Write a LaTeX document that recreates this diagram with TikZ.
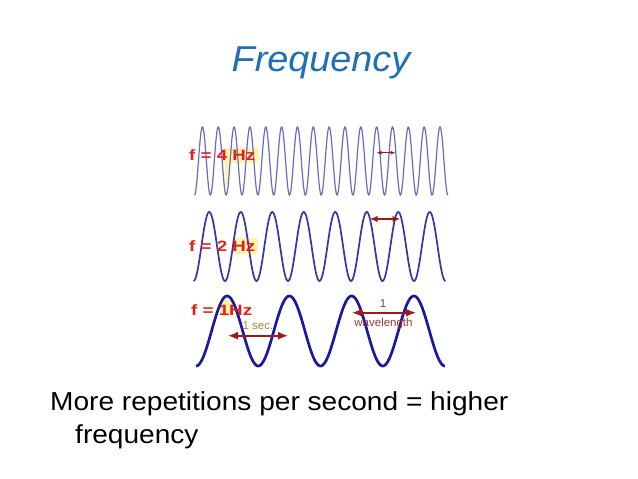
\documentclass[tikz,border=0pt]{standalone}
\usepackage{fontspec}
\setmainfont{Liberation Sans}
\usetikzlibrary{arrows.meta}
\definecolor{titleblue}{HTML}{1F6FB5}
\definecolor{waveA}{HTML}{6A6AC2}
\definecolor{waveB}{HTML}{3535A8}
\definecolor{waveC}{HTML}{1A1A9E}
\definecolor{lblred}{HTML}{E0201C}
\definecolor{arrred}{HTML}{A01818}
\definecolor{secol}{HTML}{A08C3C}
\definecolor{wlcol}{HTML}{8E3C3C}
\definecolor{glow}{HTML}{FFE866}
\tikzset{
  wavelbl/.style={text=lblred, font=\bfseries\fontsize{15}{15}\selectfont, inner sep=0pt, anchor=base west},
  dimarrow/.style={draw=arrred, {Latex[length=#1,width=0.8*#1]}-{Latex[length=#1,width=0.8*#1]}},
  small/.style={font=\fontsize{11.5}{11.5}\selectfont, inner sep=0pt},
}
\begin{document}
\begin{tikzpicture}[x=1pt,y=-1pt]
\useasboundingbox (0,0) rectangle (638,479);
\fill[white] (0,0) rectangle (638,479);
% title
\node[text=titleblue, font=\itshape\fontsize{36}{36}\selectfont, inner sep=0pt, anchor=base] (title) at (321,71) {\scalebox{1.05}[1]{Frequency}};
% glows
\fill[glow, opacity=0.55, rounded corners=3pt] (222,148) rectangle (259,163);
\fill[glow, opacity=0.5] (225,163) rectangle (228.5,184);
\fill[glow, opacity=0.55, rounded corners=3pt] (232,238) rectangle (258,254);
\fill[glow, opacity=0.6, rounded corners=3pt] (220,300) rectangle (233,316);
% waves
\draw[waveA, line width=1.2pt] plot[domain=194.5:448, samples=700, smooth] (\x,{161+34*cos((\x-194.5)*22.7273)});
\draw[waveB, line width=1.7pt] plot[domain=193.5:445.5, samples=400, smooth] (\x,{246.5+34.5*cos((\x-193.5)*11.4286)});
\draw[waveC, line width=2.7pt] plot[domain=196:445, samples=300, smooth] (\x,{331+35*cos((\x-196)*5.7831)});
% labels
\node[wavelbl] (f4) at (189,160.7) {\scalebox{1.25}[1]{f = 4 Hz}};
\node[wavelbl] (f2) at (189,251.7) {\scalebox{1.25}[1]{f = 2 Hz}};
\node[wavelbl] (f1) at (191,315) {\scalebox{1.25}[1]{f = 1Hz}};
% arrows
\coordinate (a4l) at (376.5,152.7); \coordinate (a4r) at (395.5,152.7);
\draw[dimarrow=5pt, line width=1pt] (a4l) -- (a4r);
\coordinate (a2l) at (369.5,219); \coordinate (a2r) at (400.5,219);
\draw[dimarrow=8pt, line width=1.5pt] (a2l) -- (a2r);
\coordinate (a1l) at (228,335.7); \coordinate (a1r) at (288,335.7);
\draw[dimarrow=10pt, line width=1.6pt] (a1l) -- (a1r);
\coordinate (awl) at (352,312.7); \coordinate (awr) at (416,312.7);
\draw[dimarrow=10pt, line width=1.6pt] (awl) -- (awr);
\node[small, text=secol, anchor=base] (sec) at (258,329.5) {1 sec.};
\node[small, text=wlcol, anchor=base] (one) at (383,307) {1};
\node[small, text=wlcol, anchor=base] (wl) at (383.5,326) {wavelength};
% bottom text
\node[font=\fontsize{26}{26}\selectfont, inner sep=0pt, anchor=base west] (line1) at (50,410.7) {\scalebox{1.08}[1]{More repetitions per second = higher}};
\node[font=\fontsize{26}{26}\selectfont, inner sep=0pt, anchor=base west] (line2) at (75,443) {\scalebox{1.08}[1]{frequency}};
\end{tikzpicture}
\end{document}
